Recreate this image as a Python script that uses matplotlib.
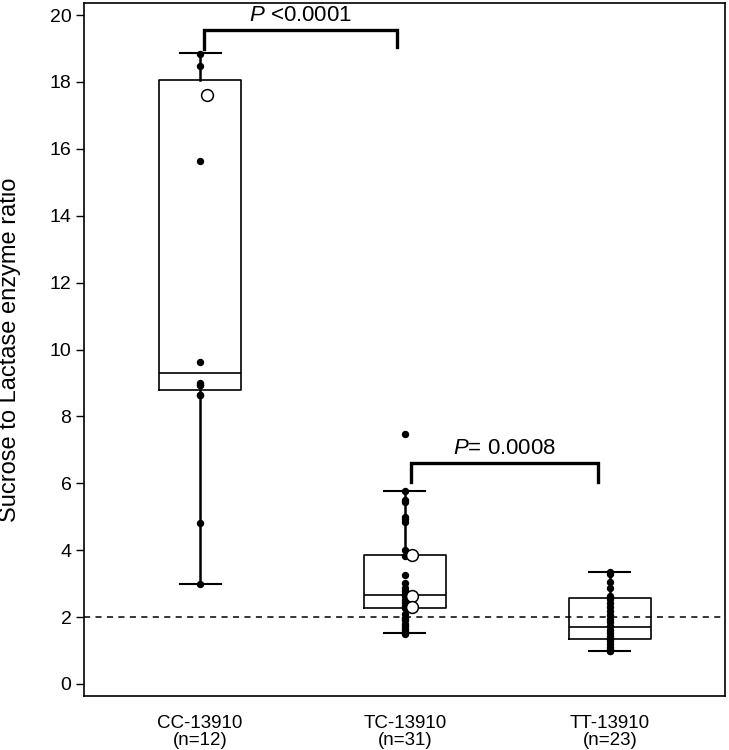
import matplotlib
matplotlib.use("Agg")
import matplotlib.pyplot as plt

plt.rcParams['font.family'] = ['Liberation Sans', 'DejaVu Sans']
plt.rcParams['mathtext.fontset'] = 'custom'
plt.rcParams['mathtext.rm'] = 'Liberation Sans'
plt.rcParams['mathtext.it'] = 'Liberation Sans:italic'

# genotype groups and labels
groups = ['CC-13910', 'TC-13910', 'TT-13910']
counts = [12, 31, 23]

# box statistics
q1 = [8.78, 2.26, 1.33]
medians = [9.31, 2.65, 1.70]
q3 = [18.07, 3.86, 2.58]
whislo = [2.98, 1.52, 0.98]
whishi = [18.87, 5.78, 3.34]

# individual ratios (filled dots)
cc_pts = [18.84, 18.48, 15.65, 9.63, 9.00, 8.95, 8.95, 8.64, 8.64, 4.80, 2.98]
tc_pts = [7.48, 5.78, 5.51, 5.45, 4.98, 4.92, 4.83, 4.02, 3.84, 3.25,
          3.01, 2.88, 2.78, 2.70, 2.62, 2.52, 2.43, 2.34, 2.26, 2.10,
          1.98, 1.90, 1.80, 1.72, 1.65, 1.58, 1.52, 1.50]
tt_pts = [3.34, 3.28, 3.04, 2.88, 2.62, 2.55, 2.42, 2.30, 2.18, 2.05,
          1.95, 1.85, 1.72, 1.62, 1.52, 1.42, 1.35, 1.28, 1.20, 1.12,
          1.05, 1.00, 0.98]
# open circles (drawn slightly to the right)
cc_open = [17.62]
tc_open = [3.86, 2.62, 2.30]
tt_open = []

cutoff = 2.0
pvals = [' <0.0001', '= 0.0008']

fig = plt.figure(figsize=(7.29, 7.5), dpi=100)
ax = fig.add_axes([0.1152, 0.072, 0.8793, 0.924])

stats = []
for i in range(3):
    stats.append(dict(med=medians[i], q1=q1[i], q3=q3[i],
                      whislo=whislo[i], whishi=whishi[i], fliers=[]))

pos = [1, 2, 3]
ax.bxp(stats, positions=pos, widths=0.4, showfliers=False,
       boxprops=dict(color='black', linewidth=1.2),
       medianprops=dict(color='black', linewidth=1.2),
       whiskerprops=dict(color='black', linewidth=1.8),
       capprops=dict(color='black', linewidth=1.5),
       capwidths=0.2, zorder=2)

for p, pts, opn in zip(pos, [cc_pts, tc_pts, tt_pts], [cc_open, tc_open, tt_open]):
    ax.plot([p] * len(pts), pts, 'o', color='black', markersize=4.3, zorder=3)
    if opn:
        ax.plot([p + 0.032] * len(opn), opn, 'o', markerfacecolor='white',
                markeredgecolor='black', markersize=8.5, markeredgewidth=1.1, zorder=4)

ax.axhline(cutoff, color='black', linestyle=(0, (4, 3.5)), linewidth=1.1, zorder=1)

# significance brackets
def bracket(x1, x2, y, yl, yr, txt):
    ax.plot([x1, x1, x2, x2], [yl, y, y, yr], color='black', linewidth=2.4,
            solid_joinstyle='miter', zorder=5)
    ax.text((x1 + x2) / 2, y + 0.12, r'$\it{P}$' + txt, ha='center', va='bottom',
            fontsize=16)

bracket(1.02, 1.96, 19.55, 18.98, 19.05, pvals[0])
bracket(2.03, 2.94, 6.62, 6.05, 6.05, pvals[1])

ax.set_xlim(0.434, 3.561)
ax.set_ylim(-0.36, 20.36)
ax.set_yticks(range(0, 21, 2))
ax.set_xticks(pos)
ax.set_xticklabels([g + '\n(n=%d)' % n for g, n in zip(groups, counts)],
                   fontsize=13.5, linespacing=0.95)
ax.tick_params(axis='x', length=0, pad=14)
ax.tick_params(axis='y', length=6, width=1, labelsize=14, pad=3)
ax.set_ylabel('Sucrose to Lactase enzyme ratio', fontsize=17)
ax.yaxis.set_label_coords(-0.098, 0.5)
for s in ax.spines.values():
    s.set_linewidth(1.2)

fig.savefig('out.png', dpi=100)
